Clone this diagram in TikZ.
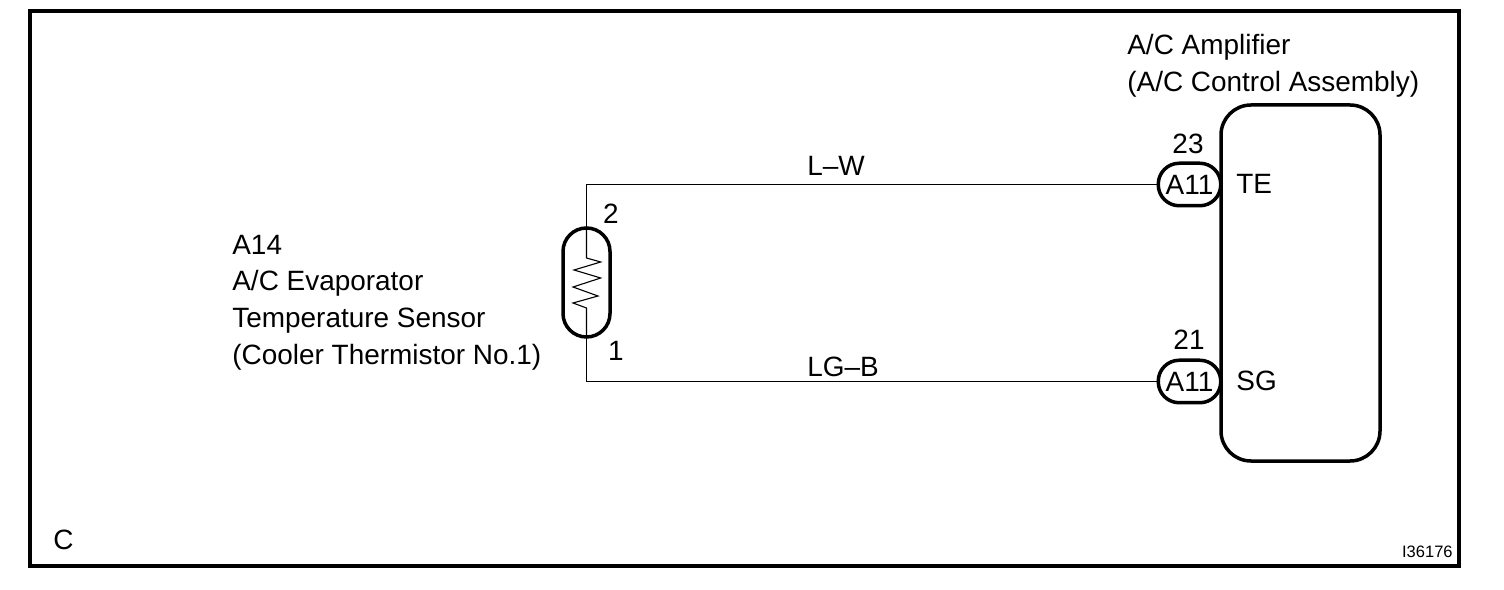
\documentclass[tikz,border=0pt]{standalone}
\usepackage{fontspec}
\setmainfont{Liberation Sans}
\tikzset{
	label text/.style={inner sep=0pt, anchor=base west, font=\fontsize{15.9}{15.9}\selectfont},
	pin text/.style={inner sep=0pt, anchor=base, font=\fontsize{15.9}{15.9}\selectfont},
	thick part/.style={draw, line width=0.7mm},
	wire/.style={line width=0.22mm},
	connector/.style={thick part, fill=white, rounded corners=4.2mm, minimum width=12.5mm, minimum height=8.5mm, inner sep=0pt, font=\fontsize{15.9}{15.9}\selectfont},
}
\begin{document}
\begin{tikzpicture}[x=0.2mm, y=-0.2mm]
		%%%%% START %%%%%
		\useasboundingbox (0, 0) rectangle (1504, 590);
		
		\draw[thick part] (30, 11) rectangle (1459, 566);
		
		\node[thick part, rounded corners=6mm, minimum width=31.8mm, minimum height=71.2mm, inner sep=0pt] (amplifier) at (1300.5, 283) {};
		\node[thick part, rounded corners=4.7mm, minimum width=9.4mm, minimum height=21.8mm, inner sep=0pt] (sensor) at (586.5, 282.5) {};
		
		\node[connector] (connTE) at (1189.5, 184.5) {A11};
		\node[connector] (connSG) at (1189.5, 381.5) {A11};
		
		\coordinate (cornerTE) at (586.5, 184.5);
		\coordinate (cornerSG) at (586.5, 381.5);
		
		\draw[wire] (connTE.west) -- (cornerTE) -- (sensor.north);
		\draw[wire, line width=0.3mm] (connSG.west) -- (cornerSG) -- (sensor.south);
		\draw[wire] (sensor.north) -- (586.5, 258) -- (600.7, 262) -- (574, 270) -- (600.7, 278) -- (573, 287) -- (598, 296) -- (573, 303) -- (586.5, 308) -- (sensor.south);
		
		\node[label text] (amplifierA) at (1127, 55) {A/C Amplifier};
		\node[label text] (amplifierB) at (1127, 92) {(A/C Control Assembly)};
		
		\node[label text] (sensorA) at (232, 255) {A14};
		\node[label text] (sensorB) at (232, 291) {A/C Evaporator};
		\node[label text] (sensorC) at (232, 328) {Temperature Sensor};
		\node[label text] (sensorD) at (232, 365) {(Cooler Thermistor No.1)};
		
		\node[pin text] (pinTwo) at (611, 224) {2};
		\node[pin text] (pinOne) at (616, 361) {1};
		\node[pin text] (pinTE) at (1188, 154) {23};
		\node[pin text] (pinSG) at (1189, 350) {21};
		
		\node[label text] (sigTE) at (1236, 194) {TE};
		\node[label text] (sigSG) at (1236, 391) {SG};
		
		\node[label text] (wireTE) at (807, 176) {L--W};
		\node[label text] (wireSG) at (807, 377) {LG--B};
		
		\node[label text] (corner) at (53, 549) {C};
		\node[inner sep=0pt, anchor=base east, font=\fontsize{9.4}{9.4}\selectfont] (figno) at (1453, 558) {I36176};
		
		%%%%% END %%%%%
	\end{tikzpicture}
\end{document}
